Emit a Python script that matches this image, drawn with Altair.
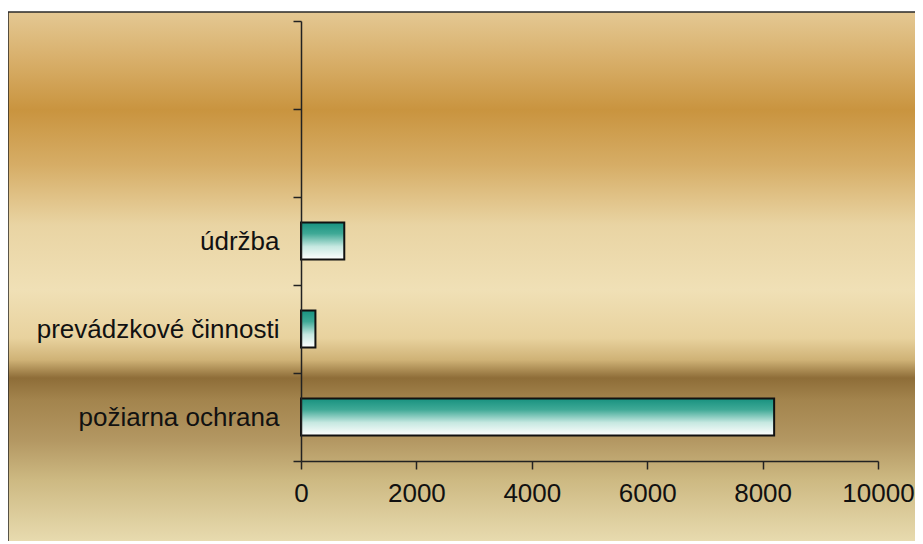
import altair as alt
import pandas as pd

# categories from top to bottom (two empty slots at the top)
categories = ["_a", "_b", "údržba", "prevádzkové činnosti", "požiarna ochrana"]
values = [None, None, 750, 250, 8200]
x_ticks = [0, 2000, 4000, 6000, 8000, 10000]

df = pd.DataFrame({"kategoria": categories, "hodnota": values})

FONT = "Liberation Sans"

# background stops (absolute y pixel, colour)
bg_y = [12, 60, 110, 165, 225, 290, 338, 360, 378, 400, 440, 480, 551]
bg_c = ["#e4c893", "#d8af6a", "#c9943f", "#d6ad66", "#e9d4a3", "#f0e0b6",
        "#e8d29e", "#cfb276", "#8e6d38", "#a3844d", "#b39762", "#cdb982", "#ece0b6"]

bg_stops = [alt.GradientStop(offset=(y - 12) / (551 - 12), color=c) for y, c in zip(bg_y, bg_c)]

background = alt.Chart(alt.Data(values=[{"a": 1}])).mark_rect(
    fill=alt.Gradient(gradient="linear", x1=0, y1=0, x2=0, y2=1, stops=bg_stops),
    stroke="#2a2a2a",
    strokeWidth=1.5,
).encode(
    x=alt.value(-293), x2=alt.value(700),
    y=alt.value(-9), y2=alt.value(530),
)

bar_fill = alt.Gradient(
    gradient="linear", x1=0, y1=0, x2=0, y2=1,
    stops=[
        alt.GradientStop(offset=0, color="#17917f"),
        alt.GradientStop(offset=0.3, color="#3fa996"),
        alt.GradientStop(offset=0.65, color="#c6e8e1"),
        alt.GradientStop(offset=1, color="#ffffff"),
    ],
)

bars = alt.Chart(df).mark_bar(
    fill=bar_fill, stroke="#111111", strokeWidth=2,
    height={"band": 0.42},
).encode(
    x=alt.X("hodnota:Q",
            scale=alt.Scale(domain=[0, 10000], nice=False),
            axis=alt.Axis(title=None, values=x_ticks, grid=False, format="d",
                          labelFont=FONT, labelFontSize=26, labelColor="#111111",
                          labelFlush=False, labelOverlap=False,
                          labelPadding=11, tickSize=8, tickColor="#222222",
                          domainColor="#222222", domainWidth=1.5, tickWidth=1.5,
                          zindex=1)),
    y=alt.Y("kategoria:N", sort=None,
            scale=alt.Scale(domain=categories, paddingInner=0, paddingOuter=0),
            axis=alt.Axis(title=None, grid=False, tickBand="extent",
                          labelExpr="indexof(datum.label, '_') == 0 ? '' : datum.label",
                          labelFont=FONT, labelFontSize=26, labelColor="#111111",
                          labelLimit=0,
                          labelPadding=14, tickSize=8, tickColor="#222222",
                          domainColor="#222222", domainWidth=1.5, tickWidth=1.5,
                          zindex=1)),
)

chart = alt.layer(background, bars).properties(
    width=577, height=440,
    autosize=alt.AutoSizeParams(type="none"),
    padding={"left": 293, "top": 13, "right": 37, "bottom": 80},
).configure_view(stroke=None)

chart.save("out.html", embed_options={"renderer": "svg", "actions": False})
